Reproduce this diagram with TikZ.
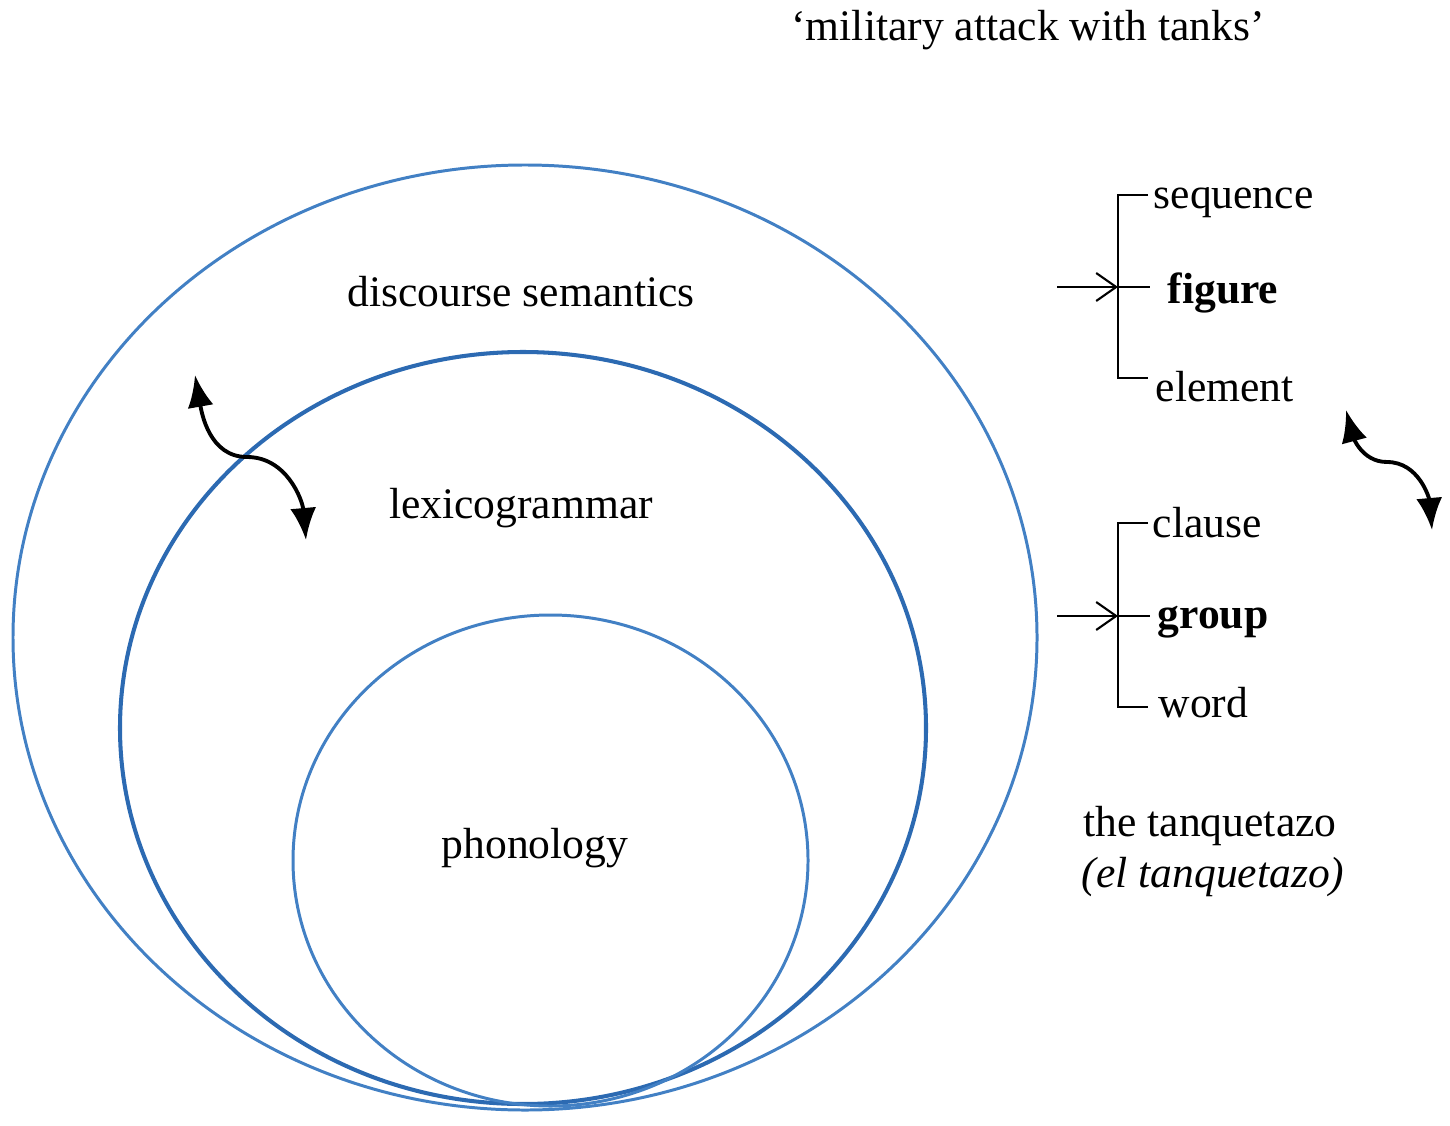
\documentclass[tikz,border=0pt]{standalone}
\usepackage{fontspec}
\setmainfont{Liberation Serif}
\usepackage{tikz}
\usetikzlibrary{shapes.geometric, arrows, arrows.meta}
\usetikzlibrary{positioning}
\definecolor{ringblue}{RGB}{66,128,196}
\definecolor{ringdark}{RGB}{44,106,178}
\tikzstyle{ring} = [draw=ringblue, line width=0.85pt]
\tikzstyle{label} = [font=\fontsize{12.4pt}{14pt}\selectfont, inner sep=0pt]
\tikzstyle{brace} = [line width=0.6pt]
\tikzstyle{into} = [line width=0.6pt,-{Straight Barb[length=2mm,width=2.8mm]}]
\tikzstyle{swap} = [line width=1.1pt,{Latex[length=3.2mm,width=2.6mm]}-{Latex[length=3.2mm,width=2.6mm]}]

\begin{document}
\begin{tikzpicture}
                    \useasboundingbox (0,0) rectangle (14.5,11.25);
                    % the three strata
                    \draw [ring] (5.25, 4.875) ellipse [x radius=5.12, y radius=4.725];
                    \draw [ring, draw=ringdark, line width=1.15pt] (5.23, 3.97) ellipse [x radius=4.03, y radius=3.76];
                    \draw [ring] (5.505, 2.645) ellipse [x radius=2.575, y radius=2.455];
                    \node [label] (ds) at (5.21, 8.33) {discourse semantics};
                    \node [label] (lg) at (5.21, 6.17) {lexicogrammar};
                    \node [label] (ph) at (5.35, 2.77) {phonology};
                    \node [label] (gloss) at (10.28, 10.95) {`military attack with tanks'};
                    % upper bracket
                    \coordinate (ta) at (11.18, 9.30);
                    \coordinate (tm) at (11.18, 8.38);
                    \coordinate (tb) at (11.18, 7.47);
                    \coordinate (tin) at (10.57, 8.38);
                    \node [label, anchor=west] (seq) at (11.53, 9.22) {sequence};
                    \node [label, anchor=west, font=\fontsize{12.4pt}{14pt}\selectfont\bfseries] (fig) at (11.67, 8.32) {figure};
                    \node [label, anchor=west] (elem) at (11.55, 7.38) {element};
                    \draw [brace] (11.48, 9.30) -- (ta) -- (tb) -- (11.48, 7.47);
                    \draw [brace] (tm) -- (11.50, 8.38);
                    \draw [into] (tin) -- (tm);
                    % lower bracket
                    \coordinate (ba) at (11.18, 6.02);
                    \coordinate (bm) at (11.18, 5.09);
                    \coordinate (bb) at (11.18, 4.18);
                    \coordinate (bin) at (10.57, 5.09);
                    \node [label, anchor=west] (cl) at (11.52, 6.02) {clause};
                    \node [label, anchor=west, font=\fontsize{12.4pt}{14pt}\selectfont\bfseries] (grp) at (11.57, 5.03) {group};
                    \node [label, anchor=west] (wd) at (11.58, 4.22) {word};
                    \draw [brace] (11.48, 6.02) -- (ba) -- (bb) -- (11.48, 4.18);
                    \draw [brace] (bm) -- (11.50, 5.09);
                    \draw [into] (bin) -- (bm);
                    \node [label] (tq) at (12.10, 2.99) {the tanquetazo};
                    \node [label] (tqs) at (12.13, 2.48) {\itshape (el tanquetazo)};
                    % realisation arrows
                    \coordinate (la) at (1.95, 7.50);
                    \coordinate (lm) at (2.47, 6.68);
                    \coordinate (lb) at (3.06, 5.85);
                    \draw [swap] (la) to [out=-80, in=180] (lm) to [out=0, in=95] (lb);
                    \coordinate (ra) at (13.46, 7.15);
                    \coordinate (rm) at (13.87, 6.63);
                    \coordinate (rb) at (14.32, 5.95);
                    \draw [swap] (ra) to [out=-75, in=180] (rm) to [out=0, in=95] (rb);
                \end{tikzpicture}
\end{document}
